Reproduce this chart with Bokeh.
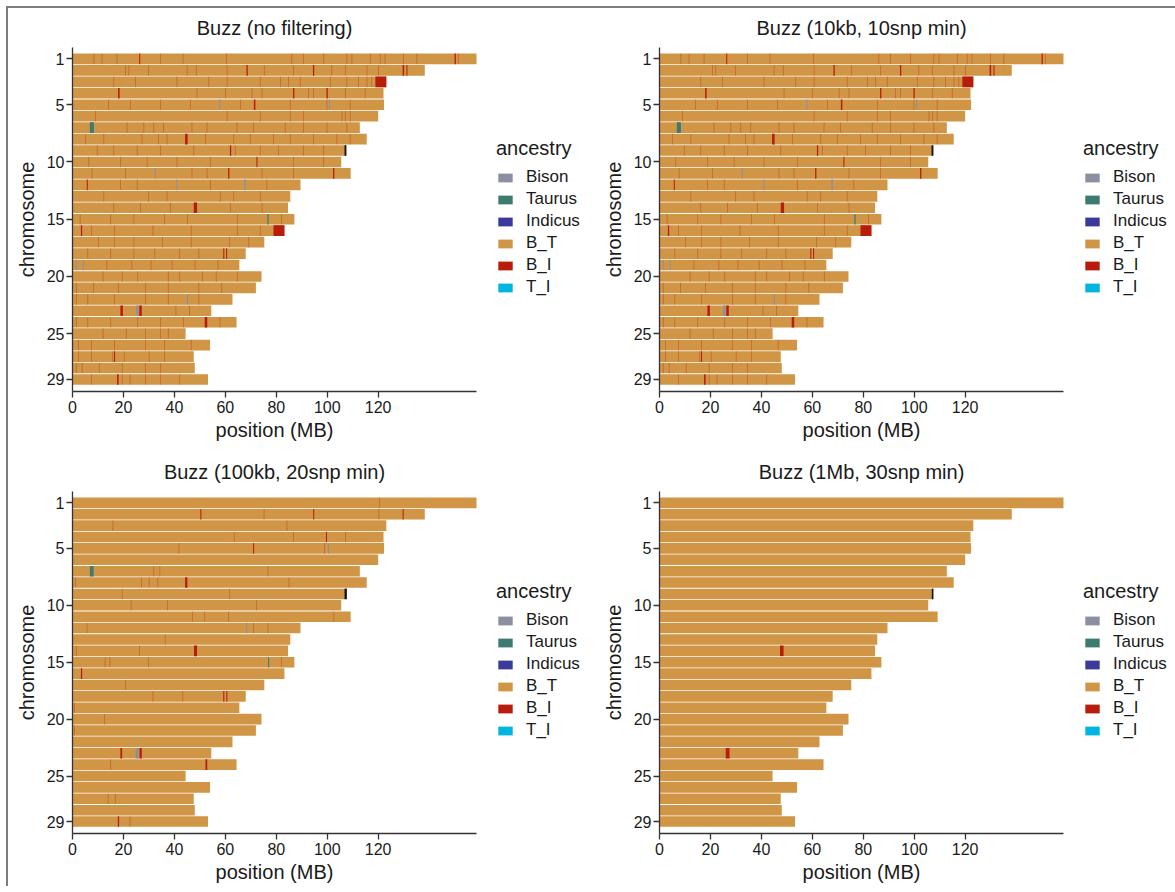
from bokeh.plotting import figure
from bokeh.models import ColumnDataSource, Range1d, FixedTicker, Legend, LegendItem, Title
from bokeh.layouts import column, row
from bokeh.embed import file_html
from bokeh.resources import INLINE

FONT = "Liberation Sans"
TEXT = "#1a1a1a"
AXIS = "#333333"

# ---------------- data ----------------
ancestry_levels = ["Bison", "Taurus", "Indicus", "B_T", "B_I", "T_I"]
ancestry_colors = ["#8B90A1", "#3D7B70", "#3B3A9C", "#D09646", "#B81C0B", "#00B6E0"]
unassigned_color = "#111111"   # black tract (not in legend)

chromosomes = list(range(1, 30))
chrom_length_mb = [158.6, 138.3, 123.2, 122.1, 122.3, 120.0, 112.8, 115.5, 107.5, 105.5,
                   109.2, 89.5, 85.5, 84.6, 87.1, 83.2, 75.3, 68.0, 65.5, 74.2,
                   72.0, 62.8, 54.5, 64.4, 44.4, 54.0, 47.6, 48.0, 53.2]

y_ticks = [1, 5, 10, 15, 20, 25, 29]
x_ticks = [0, 20, 40, 60, 80, 100, 120]
x_label = "position (MB)"
y_label = "chromosome"

panel_titles = ["Buzz (no filtering)", "Buzz (10kb, 10snp min)",
                "Buzz (100kb, 20snp min)", "Buzz (1Mb, 30snp min)"]

# sub-pixel B_I tracts: their length cannot be read, only their position
short_tract_mb = 0.3

# --- no filtering (also identical for 10kb, 10snp) ---
nofilt_block_chrom = [1, 1, 2, 2, 2, 2, 3, 4, 4, 4, 5, 5, 5, 7, 8, 9, 9, 10, 11, 11, 11,
                      12, 12, 12, 14, 15, 16, 16, 18, 18, 19, 19, 22, 23, 23, 23, 24, 27, 29]
nofilt_block_start = [26.2, 150.0, 68.3, 94.4, 129.6, 131.1, 118.9, 17.9, 86.6, 99.7, 57.6, 100.7, 71.2,
                      6.8, 44.2, 106.8, 61.8, 72.2, 61.1, 102.3, 32.3,
                      40.8, 67.5, 5.6, 47.6, 76.5, 3.3, 78.9, 59.2, 60.3, 1.3, 4.0, 44.9,
                      18.8, 25.0, 26.2, 51.9, 16.3, 17.5]
nofilt_block_end = [26.6, 150.5, 68.8, 94.9, 130.2, 131.5, 123.2, 18.5, 87.1, 100.2, 58.0, 101.1, 71.8,
                    8.4, 45.2, 107.5, 62.3, 72.6, 61.6, 102.8, 32.7,
                    41.2, 68.1, 6.0, 48.9, 77.0, 3.8, 83.2, 59.6, 60.7, 1.7, 4.4, 45.3,
                    19.8, 25.9, 27.2, 52.9, 16.7, 18.1]
nofilt_block_anc = ["B_I", "B_I", "B_I", "B_I", "B_I", "B_I", "B_I", "B_I", "B_I", "B_I", "Bison", "Bison", "B_I",
                    "Taurus", "B_I", "NA", "B_I", "B_I", "B_I", "B_I", "Bison",
                    "Bison", "Bison", "B_I", "B_I", "Taurus", "B_I", "B_I", "B_I", "B_I", "Bison", "Bison", "Bison",
                    "B_I", "Bison", "B_I", "B_I", "B_I", "B_I"]
nofilt_short_tracts = {
    1: [8.4, 11.6, 17.5, 34.5, 43.4, 60.4, 86.1, 90.7, 98.6, 107.7, 109.7, 116.9, 120.8, 122.7, 129.9, 135.2, 151.5],
    2: [20.8, 22.1, 29.9, 45.0, 48.6, 60.7, 75.3, 86.8, 101.8, 107.1, 115.6, 120.1],
    3: [16.2, 24.7, 41.0, 53.5, 60.7, 73.7, 81.6, 84.8, 89.4, 101.2, 107.7, 112.3, 115.6, 117.5],
    4: [48.9, 60.0, 70.5, 74.4, 92.7, 94.6, 107.1, 114.9],
    5: [14.2, 22.7, 34.5, 46.3, 65.9, 85.5, 99.9, 109.0],
    6: [9.0, 60.7, 73.7, 85.5, 90.7, 105.8, 107.1, 109.0],
    7: [21.4, 28.0, 31.9, 35.8, 46.9, 52.8, 64.6, 71.1, 83.5, 90.7, 99.9, 107.7],
    8: [5.1, 12.3, 27.3, 33.8, 37.1, 52.2, 63.3, 69.8, 78.9, 85.5, 94.6, 103.8, 109.0],
    9: [9.7, 16.2, 25.4, 34.5, 47.6, 63.9, 73.7, 80.9, 90.7, 98.6],
    10: [6.4, 18.8, 29.3, 41.0, 54.1, 86.8, 98.6],
    11: [7.7, 20.8, 46.9, 52.8, 74.4, 86.8],
    12: [18.8, 25.4, 54.1, 76.3],
    13: [12.3, 29.9, 37.1, 58.0, 63.3, 73.7],
    14: [16.2, 26.7, 38.4, 62.0, 74.4],
    15: [3.0, 15.0, 24.1, 36.1, 45.1, 64.7, 82.0],
    16: [7.5, 16.5, 31.6, 46.6, 64.7, 73.7],
    17: [10.2, 16.5, 24.1, 35.3, 46.6, 61.7, 69.2],
    18: [6.0, 15.0, 24.1, 32.3, 42.1, 49.6],
    19: [13.5, 23.3, 30.8, 39.1, 48.1, 57.1],
    20: [12.0, 19.5, 25.6, 37.6, 42.1, 51.1, 56.4, 64.7],
    21: [1.5, 8.3, 18.0, 28.6, 37.6, 49.6, 58.6],
    22: [1.5, 6.0, 16.5, 28.6, 37.6, 49.6],
    23: [40.6, 45.9],
    24: [1.5, 6.0, 15.0, 25.6, 34.6, 43.6, 57.9],
    25: [12.0, 21.1, 28.6, 34.6, 37.6],
    26: [2.3, 7.5, 16.5, 28.6, 36.1, 46.6],
    27: [2.3, 7.5, 15.8, 20.3, 30.1, 36.1],
    28: [1.5, 3.8, 10.5, 19.5, 28.6, 34.6],
    29: [7.5, 19.5, 22.6, 28.6, 34.6, 42.1],
}

# --- 100kb, 20snp ---
f100_block_chrom = [2, 2, 2, 4, 5, 5, 7, 8, 9, 12, 14, 15, 16, 18, 18, 23, 23, 23, 24, 29]
f100_block_start = [50.2, 94.5, 129.6, 99.5, 70.9, 100.3, 6.8, 44.2, 106.8, 68.2, 47.7, 76.8, 3.3,
                    59.2, 60.4, 18.8, 24.8, 26.3, 52.2, 17.8]
f100_block_end = [50.6, 94.9, 130.0, 99.9, 71.3, 100.7, 8.3, 45.1, 107.7, 68.6, 48.9, 77.2, 3.8,
                  59.6, 60.8, 19.5, 25.9, 27.2, 52.9, 18.3]
f100_block_anc = ["B_I", "B_I", "B_I", "B_I", "B_I", "Bison", "Taurus", "B_I", "NA", "Bison", "B_I", "Taurus", "B_I",
                  "B_I", "B_I", "B_I", "Bison", "B_I", "B_I", "B_I"]
f100_short_tracts = {
    1: [120.6], 2: [75.2, 120.3], 3: [15.9, 84.2], 4: [63.5, 86.8, 107.2], 5: [41.8, 99.0],
    7: [31.9, 34.3, 76.7], 8: [1.2, 27.1, 30.1, 33.5, 85.0], 9: [19.5, 61.7], 10: [23.0, 37.3, 72.3],
    11: [47.1, 51.9, 61.2, 102.6], 12: [5.7, 71.1, 76.7], 13: [36.4], 14: [1.5, 26.3],
    15: [12.8, 14.7, 29.8, 82.0], 17: [20.8], 18: [31.6, 43.3], 19: [0.8], 20: [12.5], 21: [0.8],
    24: [15.0], 27: [14.0, 16.8], 29: [22.6],
}

# --- 1Mb, 30snp ---
f1mb_block_chrom = [9, 14, 23]
f1mb_block_start = [106.9, 47.3, 26.0]
f1mb_block_end = [107.5, 48.7, 27.5]
f1mb_block_anc = ["NA", "B_I", "B_I"]
f1mb_short_tracts = {}

panels_data = [
    (nofilt_block_chrom, nofilt_block_start, nofilt_block_end, nofilt_block_anc, nofilt_short_tracts),
    (nofilt_block_chrom, nofilt_block_start, nofilt_block_end, nofilt_block_anc, nofilt_short_tracts),
    (f100_block_chrom, f100_block_start, f100_block_end, f100_block_anc, f100_short_tracts),
    (f1mb_block_chrom, f1mb_block_start, f1mb_block_end, f1mb_block_anc, f1mb_short_tracts),
]

# ---------------- layout helpers ----------------
HALF = 0.465       # half bar thickness (chromosome units)
NAN = float("nan")
BARS_W = 404       # pixel width of the bar area (x axis extent)
TITLE_PX = 20

# Arial / Liberation Sans advance widths (em) used to centre texts over the bar area
_W = {"B": .667, "M": .833, "u": .556, "z": .5, " ": .278, "(": .333, ")": .333, "n": .556, "o": .556,
      "f": .278, "i": .222, "l": .222, "t": .278, "e": .556, "r": .333, "g": .556, "k": .5, "b": .556,
      ",": .278, "s": .5, "p": .556, "m": .833}


def centre_offset(s, size):
    return (BARS_W - sum(_W.get(ch, .556) for ch in s) * size) / 2


def rect_cols():
    return dict(left=[], right=[], bottom=[], top=[])


def add_rect(d, c, s, e):
    d["left"].append(s)
    d["right"].append(e)
    d["bottom"].append(c - HALF)
    d["top"].append(c + HALF)


def make_panel(title, data, width, height, left, top, bottom, title_standoff):
    bchrom, bstart, bend, banc, tracts = data
    frame_w = width - left
    frame_h = height - top - bottom
    x_max = chrom_length_mb[0] * frame_w / BARS_W
    p = figure(width=width, height=height, output_backend="svg", toolbar_location=None,
               x_range=Range1d(0, x_max), y_range=Range1d(30.05, 0.0),
               min_border_left=left, min_border_right=0,
               min_border_top=top, min_border_bottom=bottom,
               border_fill_alpha=0)
    p.title.text = title
    p.title.align = "left"
    p.title.offset = centre_offset(title, TITLE_PX)
    p.title.text_font = FONT
    p.title.text_font_size = f"{TITLE_PX}px"
    p.title.text_font_style = "normal"
    p.title.text_color = TEXT
    p.title.standoff = title_standoff

    # base bars (B_T)
    base = rect_cols()
    for c, length in zip(chromosomes, chrom_length_mb):
        add_rect(base, c, 0.0, length)
    p.quad(left="left", right="right", bottom="bottom", top="top", source=ColumnDataSource(base),
           fill_color=ancestry_colors[3], line_color=None)

    # short (sub-pixel) B_I tracts: drawn translucent, as they blend into B_T at this size
    short = rect_cols()
    for c, pos_list in tracts.items():
        for pos in pos_list:
            add_rect(short, c, pos - short_tract_mb / 2, pos + short_tract_mb / 2)
    if short["left"]:
        p.quad(left="left", right="right", bottom="bottom", top="top", source=ColumnDataSource(short),
               fill_color=ancestry_colors[4], fill_alpha=0.42, line_color=None)

    segs = {a: rect_cols() for a in ancestry_levels + ["NA"]}
    for c, s, e, a in zip(bchrom, bstart, bend, banc):
        add_rect(segs[a], c, s, e)
    for a, col in zip(ancestry_levels + ["NA"], ancestry_colors + [unassigned_color]):
        if a == "B_T" or not segs[a]["left"]:
            continue
        p.quad(left="left", right="right", bottom="bottom", top="top",
               source=ColumnDataSource(segs[a]), fill_color=col, line_color=None)

    # legend key proxy (one row per ancestry level; colour only, no position)
    n = len(ancestry_levels)
    key_src = ColumnDataSource(dict(left=[NAN] * n, right=[NAN] * n, bottom=[NAN] * n, top=[NAN] * n,
                                    color=ancestry_colors, label=ancestry_levels))
    key_r = p.quad(left="left", right="right", bottom="bottom", top="top", source=key_src,
                   fill_color="color", line_color=None)
    items = [LegendItem(label=a, renderers=[key_r], index=i) for i, a in enumerate(ancestry_levels)]
    legend = Legend(items=items, title="ancestry", location=(BARS_W + 20, frame_h - 90 - 161),
                    orientation="vertical", margin=0, padding=0,
                    border_line_color=None, background_fill_alpha=0,
                    glyph_width=18, glyph_height=11, label_height=22, spacing=0,
                    label_standoff=12, title_standoff=6,
                    label_text_font=FONT, label_text_font_size="17px", label_text_color=TEXT,
                    title_text_font=FONT, title_text_font_size="20px", title_text_font_style="normal",
                    title_text_color=TEXT)
    p.add_layout(legend)

    xax = p.below[0]
    yax = p.left[0]
    xax.bounds = (0, chrom_length_mb[0])
    xax.ticker = FixedTicker(ticks=x_ticks)
    yax.ticker = FixedTicker(ticks=y_ticks)
    yax.axis_label = y_label
    for ax in (xax, yax):
        ax.axis_label_text_font = FONT
        ax.axis_label_text_font_size = "20px"
        ax.axis_label_text_font_style = "normal"
        ax.axis_label_text_color = TEXT
        ax.major_label_text_font = FONT
        ax.major_label_text_font_size = "16px"
        ax.major_label_text_color = TEXT
        ax.axis_line_color = AXIS
        ax.axis_line_width = 1.3
        ax.major_tick_line_color = AXIS
        ax.major_tick_line_width = 1.3
        ax.major_tick_out = 6
        ax.major_tick_in = 0
        ax.minor_tick_line_color = None
    xax.major_label_standoff = 3
    yax.major_label_standoff = 2
    yax.axis_label_standoff = 6

    # x axis title, centred under the bar area (not under the legend)
    xt = Title(text=x_label, align="left", offset=centre_offset(x_label, 20),
               text_font=FONT, text_font_size="20px", text_font_style="normal",
               text_color=TEXT, standoff=2)
    p.add_layout(xt, "below")

    p.xgrid.grid_line_color = None
    p.ygrid.grid_line_color = None
    p.outline_line_color = None
    return p


p1 = make_panel(panel_titles[0], panels_data[0], 594, 450, 72, 47, 59, 18)
p2 = make_panel(panel_titles[1], panels_data[1], 581, 450, 65, 47, 59, 18)
p3 = make_panel(panel_titles[2], panels_data[2], 594, 436, 72, 40, 53, 17)
p4 = make_panel(panel_titles[3], panels_data[3], 581, 436, 65, 40, 53, 17)

# thin grey frame along the top and left edge of the picture
layout = column(row(p1, p2), row(p3, p4),
                styles={"box-shadow": "inset 6px 6px 0 0 #ffffff, inset 8px 8px 0 0 #7d7d7d"})

open("out.html", "w").write(file_html(layout, INLINE))
